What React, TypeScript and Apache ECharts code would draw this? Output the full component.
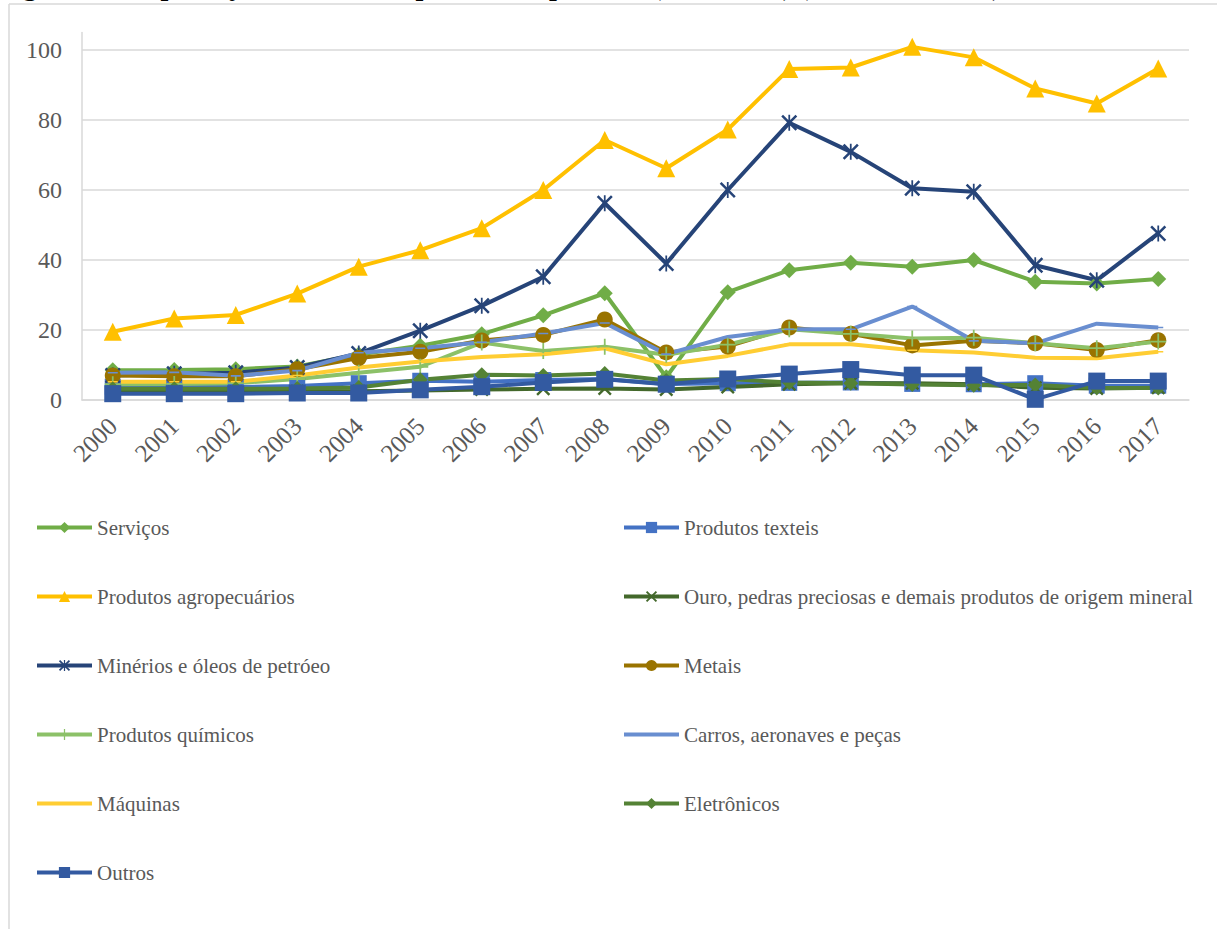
import React, { useEffect, useRef } from "react";
import * as echarts from "echarts";

// Exportações por grupo de produtos, 2000-2017 (US$ bilhões)
const years = ["2000", "2001", "2002", "2003", "2004", "2005", "2006", "2007", "2008", "2009", "2010", "2011", "2012", "2013", "2014", "2015", "2016", "2017"];
const yTicks = [0, 20, 40, 60, 80, 100];

const servicos = [8.5, 8.6, 8.8, 9.6, 13.0, 15.5, 18.8, 24.2, 30.5, 6.5, 30.8, 37.1, 39.2, 38.1, 40.0, 33.8, 33.3, 34.6];
const texteis = [3.8, 3.8, 3.7, 4.0, 4.8, 5.5, 5.2, 5.7, 6.0, 4.6, 4.8, 4.9, 5.0, 4.6, 4.5, 4.8, 4.1, 4.1];
const agropecuarios = [19.5, 23.3, 24.3, 30.4, 38.1, 42.8, 49.1, 60.0, 74.3, 66.2, 77.3, 94.6, 95.0, 100.9, 97.9, 89.0, 84.7, 94.7];
const ouro = [2.3, 2.3, 2.3, 2.5, 2.5, 2.7, 3.0, 3.2, 3.3, 3.0, 3.7, 4.5, 4.8, 4.8, 4.5, 3.5, 3.3, 3.5];
const minerios = [7.0, 7.5, 7.8, 9.3, 13.3, 19.8, 26.9, 35.2, 56.2, 39.0, 60.0, 79.2, 70.9, 60.5, 59.5, 38.5, 34.2, 47.6];
const metais = [7.0, 6.8, 6.8, 8.8, 12.0, 13.8, 17.0, 18.6, 23.0, 13.6, 15.3, 20.7, 18.9, 15.6, 16.9, 16.2, 14.3, 17.1];
const quimicos = [4.5, 4.6, 4.8, 6.0, 7.8, 9.5, 16.4, 14.0, 15.2, 12.9, 15.8, 20.2, 18.9, 17.6, 17.8, 16.2, 14.8, 16.7];
const carros = [7.8, 7.9, 6.9, 8.4, 13.5, 14.8, 16.5, 19.0, 22.0, 13.1, 18.0, 20.2, 20.2, 26.7, 16.9, 16.2, 21.8, 20.7];
const maquinas = [5.2, 5.2, 5.2, 7.0, 9.3, 11.0, 12.3, 13.1, 14.8, 10.2, 12.6, 15.9, 15.9, 14.2, 13.6, 12.1, 11.9, 13.8];
const eletronicos = [3.2, 3.2, 3.2, 3.3, 3.6, 5.8, 7.2, 7.0, 7.6, 5.6, 6.0, 5.0, 4.8, 4.4, 4.2, 4.3, 3.4, 3.4];
const outros = [1.8, 1.8, 1.8, 2.0, 2.0, 2.9, 3.8, 5.0, 5.9, 4.5, 6.0, 7.4, 8.7, 7.1, 7.1, 0.2, 5.4, 5.4];

const leftLegend = ["Serviços", "Produtos agropecuários", "Minérios e óleos de petróeo", "Produtos químicos", "Máquinas", "Outros"];
const rightLegend = ["Produtos texteis", "Ouro, pedras preciosas e demais produtos de origem mineral", "Metais", "Carros, aeronaves e peças", "Eletrônicos"];

// thin-stroke marker shapes
const X_MARK = "path://M0,1.2 L1.2,0 L5,3.8 L8.8,0 L10,1.2 L6.2,5 L10,8.8 L8.8,10 L5,6.2 L1.2,10 L0,8.8 L3.8,5 Z";
const STAR_MARK = "path://M0,1.1 L1.1,0 L5,3.9 L8.9,0 L10,1.1 L6.1,5 L10,8.9 L8.9,10 L5,6.1 L1.1,10 L0,8.9 L3.9,5 Z M4.45,0 L5.55,0 L5.55,10 L4.45,10 Z";
const PLUS_MARK = "path://M4.45,0 L5.55,0 L5.55,4.45 L10,4.45 L10,5.55 L5.55,5.55 L5.55,10 L4.45,10 L4.45,5.55 L0,5.55 L0,4.45 L4.45,4.45 Z";
// short horizontal dash, padded with zero-area points so it keeps a square box
const DASH_MARK = "path://M5,0 L5.01,0 L5,0 Z M0,4.2 L10,4.2 L10,5.8 L0,5.8 Z M5,10 L5.01,10 L5,10 Z";

const FONT = '"Liberation Serif", "Times New Roman", serif';
const LABEL = "#595959";
const GRID = "#d9d9d9";

type Def = { name: string; data: number[]; color: string; symbol: string; size: number };

const defs: Def[] = [
  { name: "Serviços", data: servicos, color: "#70AD47", symbol: "diamond", size: 16 },
  { name: "Produtos texteis", data: texteis, color: "#4472C4", symbol: "rect", size: 16 },
  { name: "Produtos agropecuários", data: agropecuarios, color: "#FFC000", symbol: "triangle", size: 18 },
  { name: "Ouro, pedras preciosas e demais produtos de origem mineral", data: ouro, color: "#43682B", symbol: X_MARK, size: 14 },
  { name: "Minérios e óleos de petróeo", data: minerios, color: "#264478", symbol: STAR_MARK, size: 16 },
  { name: "Metais", data: metais, color: "#997300", symbol: "circle", size: 16 },
  { name: "Produtos químicos", data: quimicos, color: "#8CC168", symbol: PLUS_MARK, size: 16 },
  { name: "Carros, aeronaves e peças", data: carros, color: "#698ED0", symbol: DASH_MARK, size: 10 },
  { name: "Máquinas", data: maquinas, color: "#FFCD33", symbol: DASH_MARK, size: 10 },
  { name: "Eletrônicos", data: eletronicos, color: "#548235", symbol: "diamond", size: 15 },
  { name: "Outros", data: outros, color: "#335AA1", symbol: "rect", size: 17 },
];

export default function App() {
  const ref = useRef<HTMLDivElement>(null);

  useEffect(() => {
    if (!ref.current) return;
    const chart = echarts.init(ref.current, null, { renderer: "svg" });

    const legendCommon = {
      orient: "vertical" as const,
      top: 512,
      height: 410,
      itemGap: 48,
      itemWidth: 55,
      itemHeight: 14,
      selectedMode: false,
      lineStyle: { width: 4 },
      textStyle: { fontFamily: FONT, fontSize: 21, color: LABEL },
    };

    chart.setOption({
      animation: false,
      backgroundColor: "#ffffff",
      grid: { left: 82, right: 28, top: 32.5, bottom: 529, containLabel: false },
      legend: [
        { ...legendCommon, left: 30, data: leftLegend },
        { ...legendCommon, left: 617, data: rightLegend },
      ],
      xAxis: {
        type: "category",
        data: years,
        boundaryGap: true,
        axisLine: { show: true, lineStyle: { color: GRID, width: 1.5 } },
        axisTick: { show: false },
        axisLabel: { rotate: 45, margin: 22, fontFamily: FONT, fontSize: 25, color: LABEL, interval: 0 },
        splitLine: { show: false },
      },
      yAxis: {
        type: "value",
        min: 0,
        max: 105,
        interval: 20,
        axisLine: { show: true, lineStyle: { color: GRID, width: 1.5 } },
        axisTick: { show: false },
        axisLabel: {
          margin: 20,
          fontFamily: FONT,
          fontSize: 24,
          color: LABEL,
          showMaxLabel: false,
          formatter: (v: number) => (yTicks.includes(v) ? String(v) : ""),
        },
        splitLine: {
          show: true,
          lineStyle: { color: [GRID, GRID, GRID, GRID, GRID, GRID, "rgba(0,0,0,0)"], width: 1.5 },
        },
      },
      graphic: [
        {
          type: "line",
          silent: true,
          shape: { x1: 9, y1: 4, x2: 1217, y2: 4 },
          style: { stroke: GRID, lineWidth: 1.5 },
        },
        {
          type: "line",
          silent: true,
          shape: { x1: 9, y1: 4, x2: 9, y2: 929 },
          style: { stroke: GRID, lineWidth: 1.5 },
        },
        {
          type: "text",
          silent: true,
          x: -2,
          y: -15,
          style: {
            text: "Figura 1 – Exportações brasileiras por setor e produto (2000-2017) (em US$ bilhões)",
            font: 'bold 28px "Liberation Serif"',
            fill: "#000000",
            verticalAlign: "middle",
          },
        },
      ],
      series: defs.map((d) => ({
        name: d.name,
        type: "line",
        data: d.data,
        clip: false,
        symbol: d.symbol,
        symbolSize: d.size,
        lineStyle: { color: d.color, width: 4 },
        itemStyle: { color: d.color, borderWidth: 0 },
        emphasis: { disabled: true },
      })),
    });

    return () => chart.dispose();
  }, []);

  return (
    <div
      ref={ref}
      style={{ position: "absolute", left: 0, top: 0, width: 1217, height: 929, background: "#fff" }}
    />
  );
}
